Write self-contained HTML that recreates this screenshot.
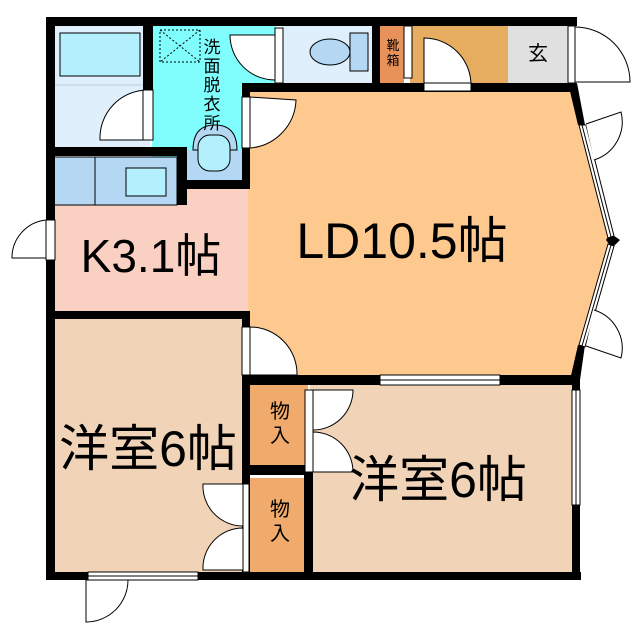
<!DOCTYPE html>
<html><head><meta charset="utf-8"><style>
html,body{margin:0;padding:0;background:#fff;}
svg{display:block;}
text{font-family:"Liberation Sans","Noto Sans CJK JP",sans-serif;fill:#000;}
</style></head><body>
<svg width="640" height="640" viewBox="0 0 640 640" xmlns="http://www.w3.org/2000/svg">
<polygon points="248,88 575,88 613,240 575,376 248,376" fill="#fec98f"/>
<rect x="52" y="188" width="196" height="126" fill="#fad0c2"/>
<rect x="52" y="318" width="194" height="258" fill="#f1d4b8"/>
<rect x="310" y="382" width="266" height="194" fill="#f1d4b8"/>
<rect x="248" y="382" width="60" height="88" fill="#efaa6c"/>
<rect x="248" y="478" width="60" height="96" fill="#efaa6c"/>
<rect x="52" y="22" width="98" height="128" fill="#dff0fc"/>
<rect x="60" y="33" width="80" height="43" fill="#b3effc" stroke="#000" stroke-width="1"/>
<line x1="52" y1="85" x2="150" y2="85" stroke="#bcd" stroke-width="1"/>
<polygon points="152,22 276,22 276,85 242,85 242,150 187,150 187,180 152,180 152,150" fill="#80fefe"/>
<rect x="187" y="150" width="56" height="32" fill="#b4d8f4"/>
<path d="M193,150 q0,-25 22,-25 q22,0 22,25 z" fill="#b4d8f4" stroke="#000"/>
<rect x="198" y="135" width="32" height="36" rx="12" fill="#b3effc" stroke="#000"/>
<rect x="160" y="30" width="40" height="32" fill="none" stroke="#000" stroke-dasharray="2,2"/>
<line x1="160" y1="30" x2="200" y2="62" stroke="#000" stroke-dasharray="2,2"/>
<line x1="200" y1="30" x2="160" y2="62" stroke="#000" stroke-dasharray="2,2"/>
<rect x="52" y="157" width="125" height="48" fill="#b4d8f4" stroke="#000"/>
<line x1="95" y1="157" x2="95" y2="205" stroke="#000"/>
<rect x="126" y="168" width="40" height="28" fill="#b3effc" stroke="#000"/>
<rect x="282" y="22" width="92" height="62" fill="#dff0fc"/>
<ellipse cx="330" cy="52" rx="20" ry="13" fill="#b4d8f4" stroke="#000"/>
<rect x="350" y="33" width="18" height="38" fill="#b4d8f4" stroke="#000"/>
<rect x="380" y="24" width="24" height="60" fill="#e8925a"/>
<rect x="410" y="24" width="98" height="60" fill="#e6ac60"/>
<rect x="508" y="24" width="60" height="60" fill="#e0e0e0"/>
<g fill="#000">
<rect x="46" y="17" width="531" height="9"/>
<rect x="46" y="17" width="9" height="563"/>
<rect x="46" y="572" width="535" height="8"/>
<rect x="572" y="376" width="8" height="204"/>
<rect x="143" y="22" width="10" height="90"/>
<rect x="46" y="147" width="140" height="9"/>
<rect x="177" y="147" width="10" height="58"/>
<rect x="177" y="180" width="73" height="9"/>
<rect x="242" y="83" width="8" height="105"/>
<rect x="242" y="83" width="335" height="9"/>
<rect x="372" y="22" width="8" height="64"/>
<rect x="46" y="311" width="204" height="8"/>
<rect x="242" y="311" width="8" height="269"/>
<rect x="242" y="375" width="338" height="10"/>
<rect x="248" y="465" width="65" height="10"/>
<rect x="304" y="465" width="9" height="115"/>
<polygon points="568,83 577,83 585,125 578,125"/>
<polygon points="610,233 620,240 612,248 606,240"/>
<polygon points="578,345 585,345 580,380 570,380"/>
</g>
<g stroke="#000" stroke-width="1" fill="#fff">
<polygon points="579,125 586,125 614,236 608,238"/>
<polygon points="608,244 614,246 585,347 579,345"/>
<path d="M586,124 L621,112 A40,40 0 0 1 594,160"/>
<path d="M586,346 L621,358 A40,40 0 0 0 594,310"/>
</g>
<line x1="582" y1="125" x2="611" y2="237" stroke="#000"/>
<line x1="611" y1="245" x2="582" y2="346" stroke="#000"/>
<g fill="#fff" stroke="#000" stroke-width="1">
<path d="M148,90 L148,140 L100,140 A48,48 0 0 1 148,90 Z"/>
<rect x="143" y="90" width="10" height="50"/>
<path d="M275,35 L230,35 A45,45 0 0 0 275,80 Z"/>
<rect x="275" y="28" width="8" height="55"/>
<path d="M250,97 L250,148 A50,50 0 0 0 296,100 Z"/>
<rect x="242" y="97" width="8" height="51"/>
<path d="M424,38 A47,47 0 0 1 471,85 L424,85 Z"/>
<rect x="424" y="83" width="47" height="8"/>
<rect x="404" y="26" width="8" height="52"/>
<path d="M575,27 A55,55 0 0 1 630,82 L575,82 Z"/>
<rect x="568" y="26" width="7" height="57"/>
<path d="M250,327 L250,375 L297,375 A47,47 0 0 0 250,327 Z"/>
<rect x="242" y="327" width="8" height="48"/>
<path d="M313,390 L353,390 A40,40 0 0 1 313,430 Z"/>
<path d="M313,432 A40,40 0 0 1 353,472 L313,472 Z"/>
<rect x="305" y="390" width="8" height="82"/>
<path d="M243,484 L203,484 A40,40 0 0 0 243,526 Z"/>
<path d="M243,528 A40,40 0 0 0 203,570 L243,570 Z"/>
<rect x="243" y="484" width="6" height="88"/>
<rect x="88" y="572" width="110" height="8"/>
<path d="M86,580 L86,622 A42,42 0 0 0 128,580 Z"/>
<rect x="380" y="375" width="120" height="10"/>
<rect x="572" y="390" width="8" height="115"/>
<rect x="46" y="220" width="9" height="40"/>
<path d="M46,220 A38,38 0 0 0 12,258 L46,258 Z"/>
</g>
<line x1="380" y1="380" x2="500" y2="380" stroke="#000"/>
<line x1="576" y1="390" x2="576" y2="505" stroke="#000"/>
<line x1="88" y1="576" x2="198" y2="576" stroke="#000"/>
<text x="151" y="272" font-size="46" text-anchor="middle">K3.1帖</text>
<text x="402" y="258" font-size="50" text-anchor="middle">LD10.5帖</text>
<text x="148" y="466" font-size="50" text-anchor="middle">洋室6帖</text>
<text x="438" y="497" font-size="50" text-anchor="middle">洋室6帖</text>
<g font-size="17" text-anchor="middle">
<text x="212" y="53">洗</text><text x="212" y="72">面</text><text x="212" y="91">脱</text><text x="212" y="110">衣</text><text x="212" y="129">所</text>
</g>
<g font-size="13" text-anchor="middle"><text x="393" y="50">靴</text><text x="393" y="65">箱</text></g>
<text x="538" y="60" font-size="20" text-anchor="middle">玄</text>
<g font-size="20" text-anchor="middle">
<text x="280" y="418">物</text><text x="280" y="442">入</text>
<text x="280" y="516">物</text><text x="280" y="540">入</text>
</g>
</svg>
</body></html>
